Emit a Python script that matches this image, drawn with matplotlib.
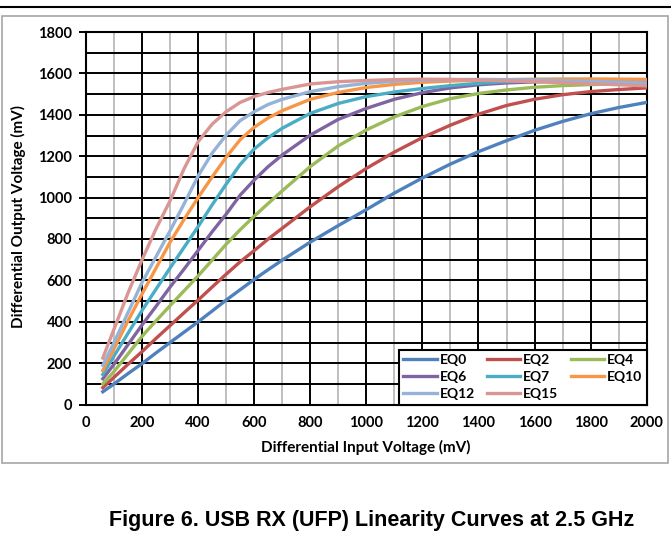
import numpy as np
import matplotlib.pyplot as plt
from matplotlib.patches import Rectangle
from matplotlib.lines import Line2D

# differential input voltage (mV)
vin = [60, 100, 150, 200, 250, 300, 350, 400, 450, 500, 550, 600, 650, 700,
       800, 900, 1000, 1100, 1200, 1300, 1400, 1500, 1600, 1700, 1800, 1900, 2000]

# differential output voltage (mV) per EQ setting
eq0 = [62, 100, 150, 198, 250, 300, 350, 400, 452, 505, 555, 605, 652, 698,
       785, 865, 942, 1022, 1095, 1162, 1222, 1275, 1325, 1368, 1405, 1435, 1460]
eq2 = [82, 132, 195, 256, 320, 382, 444, 505, 568, 630, 690, 744, 800, 852,
       956, 1053, 1141, 1220, 1290, 1350, 1403, 1445, 1475, 1497, 1512, 1522, 1530]
eq4 = [100, 160, 245, 330, 405, 478, 550, 622, 698, 775, 845, 910, 972, 1033,
       1150, 1250, 1327, 1390, 1440, 1478, 1503, 1520, 1533, 1541, 1546, 1549, 1550]
eq6 = [125, 195, 290, 385, 475, 568, 655, 745, 835, 920, 1012, 1085, 1150, 1206,
       1302, 1378, 1431, 1475, 1507, 1530, 1545, 1554, 1559, 1562, 1563, 1563, 1562]
eq7 = [146, 235, 345, 455, 558, 660, 760, 860, 965, 1065, 1160, 1235, 1290, 1335,
       1407, 1455, 1488, 1510, 1527, 1541, 1552, 1560, 1565, 1568, 1570, 1570, 1570]
eq10 = [165, 270, 405, 535, 660, 785, 895, 1000, 1100, 1195, 1280, 1340, 1385, 1420,
        1475, 1508, 1532, 1547, 1557, 1563, 1567, 1570, 1572, 1573, 1573, 1572, 1571]
eq12 = [190, 300, 445, 590, 715, 840, 970, 1105, 1215, 1302, 1372, 1415, 1450, 1475,
        1512, 1536, 1552, 1562, 1567, 1570, 1571, 1570, 1568, 1565, 1562, 1558, 1554]
eq15 = [225, 365, 540, 700, 850, 985, 1140, 1270, 1355, 1415, 1460, 1488, 1508, 1523,
        1549, 1560, 1566, 1570, 1572, 1571, 1568, 1564, 1560, 1555, 1550, 1545, 1540]

series = [eq0, eq2, eq4, eq6, eq7, eq10, eq12, eq15]
labels = ['EQ0', 'EQ2', 'EQ4', 'EQ6', 'EQ7', 'EQ10', 'EQ12', 'EQ15']
colors = ['#4F81BD', '#C0504D', '#9BBB59', '#8064A2',
          '#4BACC6', '#F79646', '#95B3D7', '#D99694']

plt.rcParams['font.family'] = ['Lato', 'DejaVu Sans']
plt.rcParams['font.weight'] = 'bold'

W, H = 671, 533
fig = plt.figure(figsize=(W / 100, H / 100), dpi=100)
ax = fig.add_axes([86 / W, 1 - 404.6 / H, (646.7 - 86) / W, (404.6 - 32) / H])

# page rule and chart border
fig.add_artist(Line2D([0, 1], [1 - 7 / H] * 2, color='k', lw=1.5))
fig.add_artist(Rectangle((2 / W, 1 - 463 / H), 666 / W, 447 / H,
                         transform=fig.transFigure, fill=False,
                         edgecolor='#A6A6A6', lw=1.2))

lines = []
for ys, lab, c in zip(series, labels, colors):
    ln, = ax.plot(vin, ys, color=c, lw=2.4, label=lab, zorder=5)
    lines.append(ln)

ax.set_xlim(0, 2000)
ax.set_ylim(0, 1800)
ax.set_xticks(np.arange(0, 2001, 200))
ax.set_xticks(np.arange(100, 2000, 200), minor=True)
ax.set_yticks(np.arange(0, 1801, 200))
ax.set_yticks(np.arange(100, 1800, 200), minor=True)
ax.grid(which='minor', axis='x', color='#BFBFBF', lw=1.4)
ax.grid(which='major', axis='x', color='k', lw=1.4)
ax.grid(which='both', axis='y', color='k', lw=1.4)
ax.set_axisbelow(True)
for s in ax.spines.values():
    s.set_linewidth(1.5)
ax.tick_params(axis='x', which='both', length=0, pad=8, labelsize=10.5)
ax.tick_params(axis='y', which='major', length=5, width=1.4, pad=5, labelsize=10.5)
ax.tick_params(axis='y', which='minor', length=0)

fig.text(366 / W, 1 - 447 / H, 'Differential Input Voltage (mV)',
         ha='center', va='center', fontsize=11, fontweight='bold')
fig.text(18 / W, 1 - 216 / H, 'Differential Output Voltage (mV)',
         ha='center', va='center', rotation=90, fontsize=11, fontweight='bold')

# legend filled row by row like the original
order = [0, 3, 6, 1, 4, 7, 2, 5]
leg = ax.legend([lines[i] for i in order], [labels[i] for i in order],
                loc='lower right', ncol=3, frameon=True, fancybox=False,
                edgecolor='k', framealpha=1, borderaxespad=0,
                handlelength=2.4, columnspacing=0.9, labelspacing=0.36,
                handletextpad=0.2, borderpad=0.32, fontsize=10)
leg.get_frame().set_linewidth(1.5)
leg.set_zorder(10)

fig.text(372 / W, 1 - 510 / H, 'Figure 6. USB RX (UFP) Linearity Curves at 2.5 GHz',
         ha='center', va='top', fontsize=15.5, fontweight='bold',
         family='Liberation Sans')

fig.savefig('out.png', dpi=100)
